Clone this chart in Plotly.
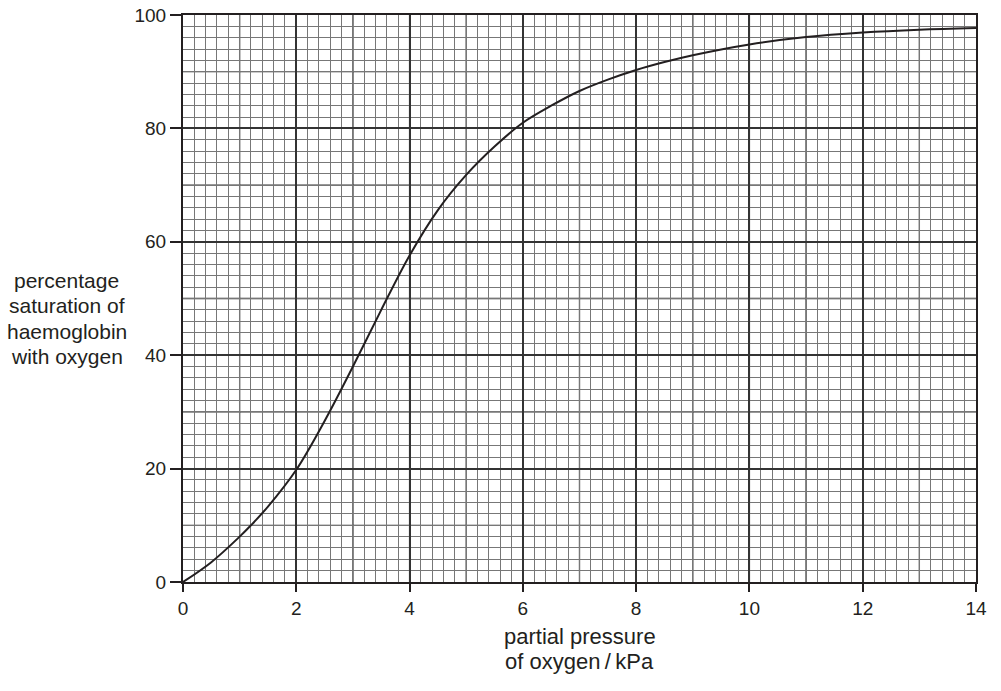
import plotly.graph_objects as go

# (partial pressure in kPa vs % saturation)
pressure = [0, 0.5, 1, 1.2, 1.5, 2, 2.5, 3, 3.5, 4, 4.5, 5, 5.5, 6, 6.5, 7, 7.5, 8, 8.5, 9, 10, 11, 12, 13, 14]
saturation = [0, 3.5, 8.0, 10.0, 13.3, 19.8, 28.4, 38.0, 48.0, 57.6, 65.6, 71.8, 76.8, 81.0, 84.0, 86.6, 88.6, 90.3, 91.7, 92.9, 94.8, 96.1, 96.9, 97.4, 97.7]

# labelled ticks, and the heavier grid lines (every unit / every 10 %)
x_ticks = [0, 2, 4, 6, 8, 10, 12, 14]
y_ticks = [0, 20, 40, 60, 80, 100]
x_grid = list(range(1, 14))
y_grid = list(range(10, 100, 10))

y_title = ["percentage", "saturation of", "haemoglobin", "with oxygen"]
x_title = ["partial pressure", "of oxygen\u2009/\u2009kPa"]

FONT = "Liberation Sans, Arial, sans-serif"
INK = "#231f20"
GRID = "#333333"

fig = go.Figure()
fig.add_trace(go.Scatter(
    x=pressure, y=saturation, mode="lines",
    line=dict(color=INK, width=2, shape="spline", smoothing=1.0),
    showlegend=False, hoverinfo="skip",
))

# heavier graph-paper lines at every unit and every 10 %
for v in x_grid:
    fig.add_shape(type="line", xref="x", yref="paper", x0=v, x1=v, y0=0, y1=1,
                  line=dict(color=GRID, width=1.3), layer="below")
for v in y_grid:
    fig.add_shape(type="line", xref="paper", yref="y", x0=0, x1=1, y0=v, y1=v,
                  line=dict(color=GRID, width=1.3), layer="below")

fig.update_layout(
    width=1001, height=691,
    margin=dict(l=183, r=25, t=15, b=109),
    paper_bgcolor="white", plot_bgcolor="white",
    font=dict(family=FONT, size=19, color=INK),
    xaxis=dict(
        range=[0, 14], tickmode="array", tickvals=x_ticks,
        ticks="outside", ticklen=8, tickwidth=1.5, tickcolor=INK,
        showgrid=True, gridcolor=GRID, gridwidth=1.5,
        minor=dict(dtick=0.2, tick0=0, showgrid=True, gridcolor="#777777", gridwidth=1),
        showline=True, linecolor=INK, linewidth=2, mirror=True,
        zeroline=False, fixedrange=True, automargin=False,
        ticklabeloverflow="allow",
    ),
    yaxis=dict(
        range=[0, 100], tickmode="array", tickvals=y_ticks,
        ticks="outside", ticklen=11, tickwidth=1.5, tickcolor=INK,
        showgrid=True, gridcolor=GRID, gridwidth=1.5,
        minor=dict(dtick=2, tick0=0, showgrid=True, gridcolor="#777777", gridwidth=1),
        showline=True, linecolor=INK, linewidth=2, mirror=True,
        zeroline=False, fixedrange=True, automargin=False,
        ticklabeloverflow="allow",
    ),
)

# titles: one annotation per line to keep the tight line spacing
for i, line in enumerate(y_title):
    fig.add_annotation(text=line, xref="paper", yref="paper",
                       x=-0.1463, y=0.5326 - i * 0.045,
                       xanchor="center", yanchor="middle", showarrow=False,
                       font=dict(family=FONT, size=21, color=INK))

for i, line in enumerate(x_title):
    fig.add_annotation(text=line, xref="paper", yref="paper",
                       x=0.5, y=-0.0965 - i * 0.0441,
                       xanchor="center", yanchor="middle", showarrow=False,
                       font=dict(family=FONT, size=22, color=INK))

# drop the default page margin so the figure fills the window exactly
fig.write_html("out.html", config={"displayModeBar": False},
               post_script="document.body.style.margin='0';")
